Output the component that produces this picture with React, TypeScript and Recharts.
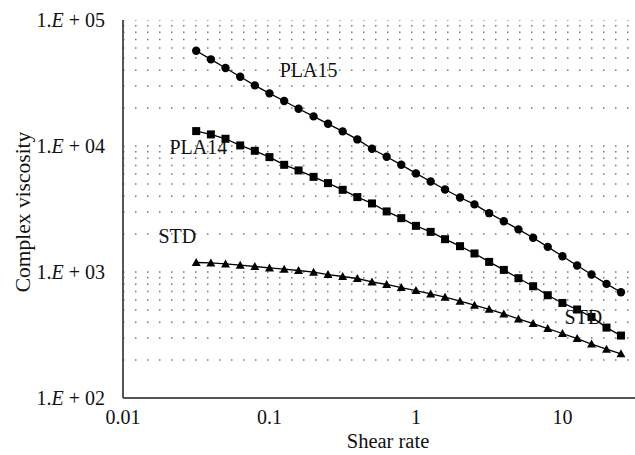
import React from "react"
import {
    LineChart,
    Line,
    XAxis,
    YAxis,
    ReferenceLine,
    ReferenceDot,
    Label,
} from "recharts"

// shear rate (x) shared by all three series
const shearRate = [
    0.0316, 0.0398, 0.0501, 0.0631, 0.0794, 0.1, 0.126, 0.158, 0.2, 0.251,
    0.316, 0.398, 0.501, 0.631, 0.794, 1, 1.26, 1.58, 2, 2.51,
    3.16, 3.98, 5.01, 6.31, 7.94, 10, 12.6, 15.8, 20, 25.1,
]

const pla15 = [
    57050, 48740, 41570, 35460, 30290, 26170, 22740, 19750, 17180, 15000,
    13060, 11280, 9500, 8210, 7090, 6060, 5230, 4520, 3900, 3440,
    2930, 2530, 2180, 1870, 1583, 1335, 1126, 955, 805, 691,
]

const pla14 = [
    13130, 12360, 11410, 10110, 9160, 8160, 7090, 6400, 5690, 5075,
    4490, 3930, 3500, 3024, 2675, 2324, 2082, 1822, 1603, 1403,
    1203, 1039, 893, 771, 654, 568, 504, 440, 362, 313,
]

const std = [
    1190, 1181, 1160, 1132, 1106, 1078, 1053, 1028, 996, 955,
    921, 888, 834, 796, 753, 713, 670, 631, 586, 545,
    506, 465, 424, 390, 356, 325, 296, 268, 244, 224,
]

const xTicks = [0.01, 0.1, 1, 10]
const yTicks = [100, 1000, 10000, 100000]
const yTickLabels = ["02", "03", "04", "05"]

const gridValues = [
    200, 300, 400, 500, 600, 700, 800, 900, 1000,
    2000, 3000, 4000, 5000, 6000, 7000, 8000, 9000, 10000,
    20000, 30000, 40000, 50000, 60000, 70000, 80000, 90000, 100000,
]

const annotations = [
    { text: "PLA15", x: 0.185, y: 40100 },
    { text: "PLA14", x: 0.0327, y: 9800 },
    { text: "STD", x: 0.0235, y: 1925 },
    { text: "STD", x: 13.9, y: 440 },
]

const data = shearRate.map((x, i) => ({ x, pla15: pla15[i], pla14: pla14[i], std: std[i] }))

const FONT = "'Liberation Serif', 'Times New Roman', serif"

const CircleDot = (props: any) => {
    const { cx, cy } = props
    if (cx == null || cy == null) return null
    return <circle cx={cx} cy={cy} r={4.2} fill="#000" />
}

const SquareDot = (props: any) => {
    const { cx, cy } = props
    if (cx == null || cy == null) return null
    return <rect x={cx - 4} y={cy - 4} width={8} height={8} fill="#000" />
}

const TriangleDot = (props: any) => {
    const { cx, cy } = props
    if (cx == null || cy == null) return null
    return <polygon points={`${cx},${cy - 4.5} ${cx + 4.5},${cy + 3.5} ${cx - 4.5},${cy + 3.5}`} fill="#000" />
}

const YTick = (props: any) => {
    const { x, y, payload } = props
    const idx = yTicks.indexOf(payload.value)
    return (
        <text x={x - 10} y={y} textAnchor="end" dominantBaseline="central" fontFamily={FONT} fontSize={20} fill="#111">
            1.<tspan fontStyle="italic">E</tspan> + {yTickLabels[idx]}
        </text>
    )
}

const XTick = (props: any) => {
    const { x, y, payload } = props
    return (
        <text x={x} y={y + 11} textAnchor="middle" dominantBaseline="central" fontFamily={FONT} fontSize={20} fill="#111">
            {String(payload.value)}
        </text>
    )
}

export default function App() {
    return (
        <div style={{ width: 635, height: 455, background: "#fff" }}>
            <style>{`body{margin:0}`}</style>
            <LineChart width={635} height={455} data={data} margin={{ top: 20, right: 0, left: 0, bottom: 0 }}>
                {gridValues.map((v) => (
                    <ReferenceLine
                        key={v}
                        y={v}
                        stroke="#777"
                        strokeWidth={1.5}
                        strokeDasharray="1.5 10.5"
                        ifOverflow="hidden"
                    />
                ))}
                <XAxis
                    dataKey="x"
                    type="number"
                    scale="log"
                    domain={[0.01, 31.3]}
                    ticks={xTicks}
                    allowDataOverflow
                    tickLine={false}
                    tick={<XTick />}
                    stroke="#555"
                    strokeWidth={2}
                    height={57}
                >
                    <Label
                        content={() => (
                            <text x={388} y={441} textAnchor="middle" dominantBaseline="central" fontFamily={FONT} fontSize={20.5} fill="#111">
                                Shear rate
                            </text>
                        )}
                    />
                </XAxis>
                <YAxis
                    type="number"
                    scale="log"
                    domain={[100, 100000]}
                    ticks={yTicks}
                    allowDataOverflow
                    tickLine={false}
                    tick={<YTick />}
                    stroke="#555"
                    strokeWidth={2}
                    width={123}
                >
                    <Label
                        content={() => (
                            <text
                                x={23}
                                y={212}
                                transform="rotate(-90 23 212)"
                                textAnchor="middle"
                                dominantBaseline="central"
                                fontFamily={FONT}
                                fontSize={21.5}
                                fill="#111"
                            >
                                Complex viscosity
                            </text>
                        )}
                    />
                </YAxis>
                <Line dataKey="pla15" type="linear" stroke="#000" strokeWidth={1.3} dot={<CircleDot />} isAnimationActive={false} />
                <Line dataKey="pla14" type="linear" stroke="#000" strokeWidth={1.3} dot={<SquareDot />} isAnimationActive={false} />
                <Line dataKey="std" type="linear" stroke="#000" strokeWidth={1.3} dot={<TriangleDot />} isAnimationActive={false} />
                {annotations.map((a, i) => (
                    <ReferenceDot
                        key={i}
                        x={a.x}
                        y={a.y}
                        r={0}
                        ifOverflow="visible"
                        shape={(p: any) => (
                            <text x={p.cx} y={p.cy} textAnchor="middle" dominantBaseline="central" fontFamily={FONT} fontSize={20} fill="#111">
                                {a.text}
                            </text>
                        )}
                    />
                ))}
            </LineChart>
        </div>
    )
}
